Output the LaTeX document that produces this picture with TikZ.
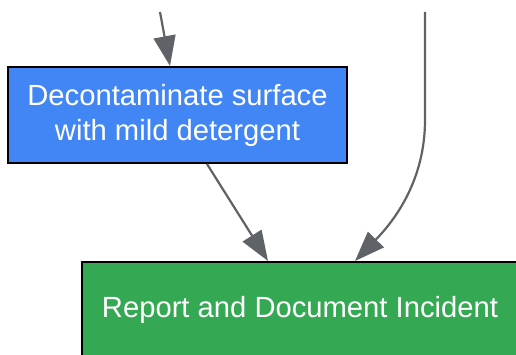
\documentclass[tikz,border=0pt]{standalone}
\usepackage{fontspec}
\setmainfont{Liberation Sans}
\usetikzlibrary{arrows.meta}

\definecolor{stepblue}{HTML}{4285F4}
\definecolor{stepgreen}{HTML}{34A853}
\definecolor{linkgray}{HTML}{5F6368}

\tikzset{
	stepbox/.style={draw=black, line width=2pt, minimum height=96pt, text=white,
		font=\fontsize{29.2}{35}\selectfont, align=center, inner sep=0pt},
	link/.style={draw=linkgray, line width=2.2pt, -{Triangle[length=30pt,width=22pt]}}
}

\begin{document}
\begin{tikzpicture}[x=1pt,y=1pt]
	\useasboundingbox (0,0) rectangle (516,-355);
	\node[stepbox, fill=stepblue, minimum width=339pt] (decon) at (177.5,-115)
		{Decontaminate surface\\with mild detergent};
	\node[stepbox, fill=stepgreen, minimum width=436pt] (report) at (300,-310)
		{Report and Document Incident};
	\coordinate (inA) at (160,-12);
	\coordinate (inB) at (425,-12);
	\draw[link] (inA) -- (decon.north -| 170,0);
	\draw[link] (inB) -- (425,-120) .. controls (425,-180) and (395,-220) .. (report.north -| 355,0);
	\draw[link] (decon.south -| 207,0) -- (report.north -| 268,0);
\end{tikzpicture}
\end{document}
